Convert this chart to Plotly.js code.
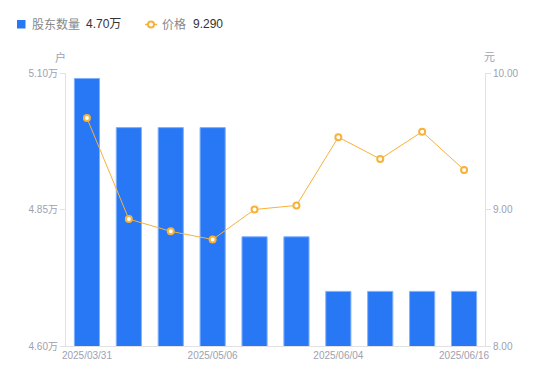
<!DOCTYPE html>
<html><head><meta charset="utf-8">
<script src="https://cdn.plot.ly/plotly-3.0.1.min.js"></script>
<style>html,body{margin:0;padding:0;background:#fff}#c{width:550px;height:381px}</style>
</head><body><div id="c"></div>
<script>
const dates = ['2025/03/31','2025/04/10','2025/04/18','2025/05/06','2025/05/16','2025/05/20','2025/06/04','2025/06/10','2025/06/13','2025/06/16'];
const holders = [50900, 50000, 50000, 50000, 48000, 48000, 47000, 47000, 47000, 47000];
const prices = [9.67, 8.93, 8.84, 8.78, 9.00, 9.03, 9.53, 9.37, 9.57, 9.29];
const leftTickVals = [46000, 48500, 51000];
const leftTickText = ['4.60万', '4.85万', '5.10万'];
const rightTickVals = [8, 9, 10];
const rightTickText = ['8.00', '9.00', '10.00'];
const xTickVals = ['2025/03/31', '2025/05/06', '2025/06/04', '2025/06/16'];
const seriesNames = ['股东数量', '价格'];

const FONT = 'Liberation Sans, Noto Sans CJK SC, sans-serif';
const lastH = (holders[holders.length-1]/10000).toFixed(2) + '万';
const lastP = prices[prices.length-1].toFixed(3);
const BLUE = '#2878f5', ORANGE = '#f7b23b';

const traces = [
  {type:'bar', x:dates, y:holders, name:seriesNames[0],
   marker:{color:BLUE, line:{color:'#7fb0fb', width:1}}, width:0.6, yaxis:'y', hoverinfo:'skip'},
  {type:'scatter', mode:'lines+markers', x:dates, y:prices, name:seriesNames[1],
   line:{color:ORANGE, width:1}, marker:{symbol:'circle', size:6, color:'#fff', line:{color:ORANGE, width:2}},
   yaxis:'y2', hoverinfo:'skip'}
];

const L = 66, R = 65, T = 73, B = 35, W = 550, H = 381;
const pw = W - L - R, ph = H - T - B;
const px = v => (v - L) / pw, py = v => (H - B - v) / ph;
const layout = {
  width:W, height:H,
  margin:{l:L, r:R, t:T, b:B},
  paper_bgcolor:'#fff', plot_bgcolor:'#fff',
  font:{family:FONT, size:10, color:'#a0a0b0'},
  showlegend:false,
  xaxis:{type:'category', tickvals:xTickVals, ticktext:xTickVals, showgrid:false, zeroline:false,
    showline:true, linecolor:'#e2e2e2', linewidth:1, ticks:'', tickfont:{size:10, color:'#a0a0b0'},
    range:[-0.5, 9.5]},
  yaxis:{range:[46000, 51000], tickvals:leftTickVals, ticktext:leftTickText, showgrid:false, zeroline:false,
    showline:true, linecolor:'#e2e2e2', ticks:'outside', ticklen:5, tickcolor:'#e2e2e2', tickfont:{size:10, color:'#a0a0b0'}},
  yaxis2:{range:[8, 10], tickvals:rightTickVals, ticktext:rightTickText, overlaying:'y', side:'right',
    showgrid:false, zeroline:false, showline:true, linecolor:'#e2e2e2', ticks:'outside', ticklen:5, tickcolor:'#e2e2e2',
    tickfont:{size:10, color:'#a0a0b0'}},
  shapes:[
    {type:'rect', xref:'paper', yref:'paper', x0:px(17), x1:px(25.5), y0:py(28.5), y1:py(20), fillcolor:BLUE, line:{width:0}},
    {type:'line', xref:'paper', yref:'paper', x0:px(145), x1:px(157), y0:py(24.5), y1:py(24.5), line:{color:ORANGE, width:1.5}},
    {type:'circle', xref:'paper', yref:'paper', x0:px(148), x1:px(154), y0:py(27.5), y1:py(21.5), fillcolor:'#fff', line:{color:ORANGE, width:2}}
  ],
  annotations:[
    {text:seriesNames[0], xref:'paper', yref:'paper', x:px(30), y:py(24.5), xanchor:'left', yanchor:'middle', showarrow:false, font:{size:12, color:'#888'}},
    {text:lastH, xref:'paper', yref:'paper', x:px(84), y:py(24.5), xanchor:'left', yanchor:'middle', showarrow:false, font:{size:12, color:'#333'}},
    {text:seriesNames[1], xref:'paper', yref:'paper', x:px(160), y:py(24.5), xanchor:'left', yanchor:'middle', showarrow:false, font:{size:12, color:'#888'}},
    {text:lastP, xref:'paper', yref:'paper', x:px(191), y:py(24.5), xanchor:'left', yanchor:'middle', showarrow:false, font:{size:12, color:'#333'}},
    {text:'户', xref:'paper', yref:'paper', x:px(60), y:py(57), xanchor:'center', yanchor:'middle', showarrow:false, font:{size:11, color:'#a0a0b0'}},
    {text:'元', xref:'paper', yref:'paper', x:px(490), y:py(57), xanchor:'center', yanchor:'middle', showarrow:false, font:{size:11, color:'#a0a0b0'}}
  ]
};
Plotly.newPlot('c', traces, layout, {displayModeBar:false, staticPlot:true});
</script></body></html>
